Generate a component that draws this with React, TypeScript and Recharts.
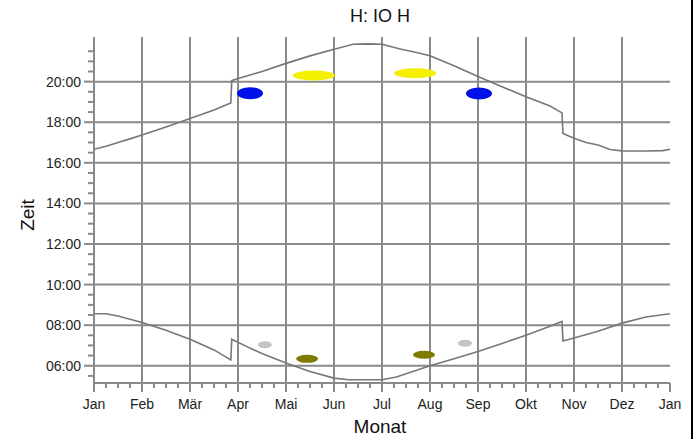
import React from 'react';
import { ComposedChart, Line, Scatter, XAxis, YAxis, ReferenceLine } from 'recharts';

// Month index (0 = Jan 1, 12 = next Jan 1), hour of day
const monthLabels = ['Jan', 'Feb', 'Mär', 'Apr', 'Mai', 'Jun', 'Jul', 'Aug', 'Sep', 'Okt', 'Nov', 'Dez', 'Jan'];
const hourLabelValues = [6, 8, 10, 12, 14, 16, 18, 20];

const sunsetM = [0, 0.25, 0.5, 0.75, 1, 1.5, 2, 2.5, 2.85, 2.87, 3, 3.25, 3.5, 4, 4.5, 5, 5.4, 5.7, 6, 6.4, 6.7, 7, 7.5, 8, 8.5, 9, 9.5, 9.75, 9.77, 10, 10.25, 10.5, 10.75, 11, 11.5, 11.85, 12];
const sunsetH = [16.67, 16.82, 17.0, 17.18, 17.37, 17.77, 18.18, 18.6, 18.95, 20.05, 20.15, 20.33, 20.5, 20.9, 21.27, 21.6, 21.84, 21.86, 21.84, 21.6, 21.45, 21.28, 20.78, 20.25, 19.75, 19.26, 18.8, 18.46, 17.45, 17.21, 17.0, 16.88, 16.66, 16.59, 16.58, 16.6, 16.67];

const sunriseM = [0, 0.25, 0.5, 1, 1.5, 2, 2.5, 2.85, 2.87, 3.25, 3.5, 4, 4.5, 5, 5.3, 6, 6.3, 7, 7.5, 8, 8.5, 9, 9.5, 9.75, 9.77, 10, 10.5, 11, 11.5, 12];
const sunriseH = [8.56, 8.56, 8.45, 8.13, 7.75, 7.31, 6.78, 6.29, 7.31, 6.87, 6.6, 6.13, 5.72, 5.39, 5.31, 5.31, 5.45, 6.0, 6.35, 6.7, 7.1, 7.5, 7.95, 8.18, 7.22, 7.37, 7.7, 8.1, 8.4, 8.56];

const blueM = [3.25, 8.02];
const blueH = [19.43, 19.42];
const yellowM = [4.58, 6.69];
const yellowH = [20.3, 20.41];
const grayM = [3.56, 7.73];
const grayH = [7.03, 7.11];
const oliveM = [4.44, 6.875];
const oliveH = [6.34, 6.54];

const zip = (ms: number[], hs: number[]) => ms.map((m, i) => ({ m, h: hs[i] }));

const sunsetData = zip(sunsetM, sunsetH);
const sunriseData = zip(sunriseM, sunriseH);
const blueData = zip(blueM, blueH);
const yellowData = zip(yellowM, yellowH);
const grayData = zip(grayM, grayH);
const oliveData = zip(oliveM, oliveH);

const xTicks: number[] = [];
for (let i = 0; i <= 48; i++) xTicks.push(i / 4);
const yTicks: number[] = [];
for (let i = 11; i <= 43; i++) yTicks.push(i / 2);

const GRID = '#8a8a8a';
const FONT = '"Liberation Sans", Arial, sans-serif';

const fmtHour = (h: number) => (h < 10 ? '0' : '') + h + ':00';

const YTick = (props: any) => {
  const { x, y, payload } = props;
  const v = payload.value as number;
  const major = hourLabelValues.includes(v);
  return (
    <g>
      <line x1={x - (major ? 10 : 6)} x2={x} y1={y} y2={y} stroke={GRID} strokeWidth={2} />
      {major && (
        <text x={x - 13} y={y + 5} textAnchor="end" fontSize={14} fill="#222" fontFamily={FONT}>
          {fmtHour(v)}
        </text>
      )}
    </g>
  );
};

const XTick = (props: any) => {
  const { x, y, payload } = props;
  const v = payload.value as number;
  const major = Math.abs(v - Math.round(v)) < 1e-6;
  return (
    <g>
      <line x1={x} x2={x} y1={y} y2={y + (major ? 9 : 5)} stroke={GRID} strokeWidth={2} />
      {major && (
        <text x={x} y={y + 26} textAnchor="middle" fontSize={14} fill="#222" fontFamily={FONT}>
          {monthLabels[Math.round(v)]}
        </text>
      )}
    </g>
  );
};

const blob = (fill: string, rx: number, ry: number) => (props: any) => {
  const { cx, cy } = props;
  return <ellipse cx={cx} cy={cy} rx={rx} ry={ry} fill={fill} />;
};

export default function App() {
  return (
    <div style={{ position: 'absolute', left: 0, top: 0, width: 699, height: 439, background: '#fff', overflow: 'hidden' }}>
      <div style={{ position: 'absolute', left: 280, top: 6, width: 200, textAlign: 'center', fontFamily: FONT, fontSize: 18, color: '#111' }}>
        H: IO H
      </div>
      <div style={{ position: 'absolute', left: 340, top: 417, width: 80, textAlign: 'center', fontFamily: FONT, fontSize: 19, lineHeight: '20px', color: '#111' }}>
        Monat
      </div>
      <div style={{ position: 'absolute', left: 28, top: 215, width: 0, height: 0 }}>
        <div style={{ position: 'absolute', left: -40, top: -12, width: 80, textAlign: 'center', transform: 'rotate(-90deg)', fontFamily: FONT, fontSize: 19, color: '#111', lineHeight: '24px' }}>
          Zeit
        </div>
      </div>
      <div style={{ position: 'absolute', left: 691, top: 0, width: 2, height: 439, background: '#000' }} />
      <ComposedChart width={699} height={439} margin={{ top: 37, right: 29, bottom: 0, left: 0 }}>
        <XAxis
          type="number"
          dataKey="m"
          domain={[0, 12]}
          ticks={xTicks}
          interval={0}
          height={56}
          tickSize={0}
          tickMargin={0}
          tickLine={false}
          axisLine={{ stroke: GRID, strokeWidth: 2 }}
          tick={<XTick />}
          allowDataOverflow
        />
        <YAxis
          type="number"
          dataKey="h"
          domain={[5.15, 22.2]}
          ticks={yTicks}
          interval={0}
          width={94}
          tickSize={0}
          tickMargin={0}
          tickLine={false}
          axisLine={{ stroke: GRID, strokeWidth: 2 }}
          tick={<YTick />}
          allowDataOverflow
        />
        {hourLabelValues.map((h) => (
          <ReferenceLine key={'h' + h} y={h} stroke={GRID} strokeWidth={2} ifOverflow="visible" />
        ))}
        {monthLabels.slice(1, 12).map((_, i) => (
          <ReferenceLine key={'v' + i} x={i + 1} stroke={GRID} strokeWidth={2} ifOverflow="visible" />
        ))}
        <Line data={sunsetData} dataKey="h" type="linear" stroke="#777" strokeWidth={1.6} dot={false} isAnimationActive={false} />
        <Line data={sunriseData} dataKey="h" type="linear" stroke="#777" strokeWidth={1.6} dot={false} isAnimationActive={false} />
        <Scatter data={blueData} dataKey="h" shape={blob('#0010e8', 13, 6)} isAnimationActive={false} />
        <Scatter data={yellowData} dataKey="h" shape={blob('#f4f000', 21, 5)} isAnimationActive={false} />
        <Scatter data={grayData} dataKey="h" shape={blob('#c4c4c4', 7, 3.5)} isAnimationActive={false} />
        <Scatter data={oliveData} dataKey="h" shape={blob('#7f7a00', 11, 4)} isAnimationActive={false} />
      </ComposedChart>
    </div>
  );
}
